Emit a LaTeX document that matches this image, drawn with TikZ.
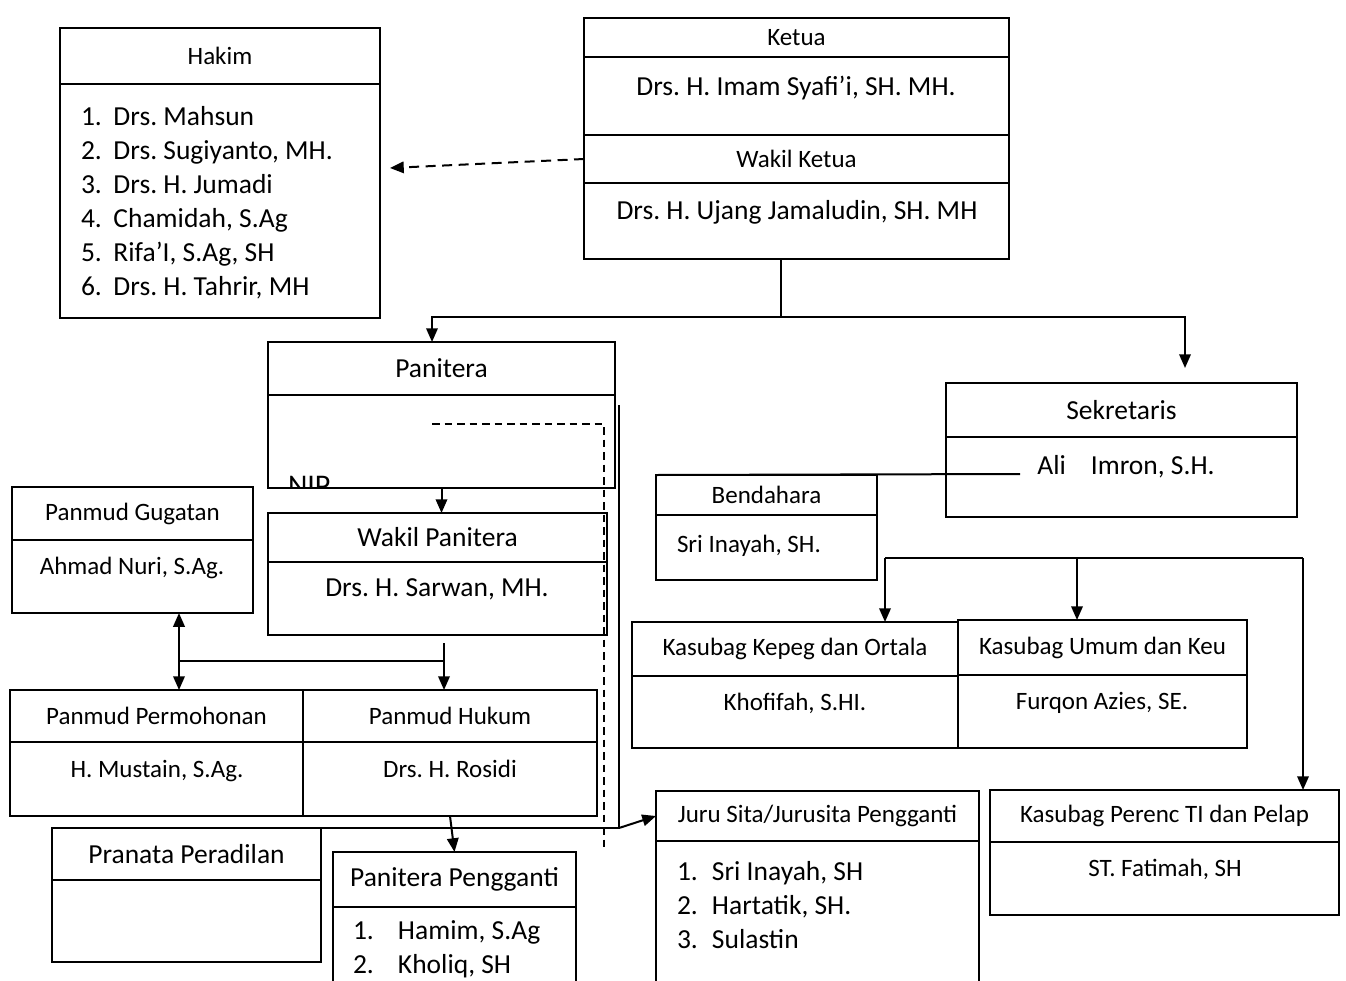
\documentclass[tikz,border=0pt]{standalone}
\usepackage{fontspec}
\setmainfont{Carlito}
\usetikzlibrary{arrows.meta,positioning}
\frenchspacing

\begin{document}
\begin{tikzpicture}[x=0.4pt, y=-0.4pt, line width=0.8pt, >={Triangle[length=5.5pt,width=4.6pt]},
  box/.style 2 args={draw, anchor=north west, inner sep=0pt, outer sep=0pt, minimum width=#1*0.4pt, minimum height=#2*0.4pt},
  hd/.style={font=\fontsize{10}{12}\selectfont},
  hdl/.style={font=\fontsize{11}{13}\selectfont},
  nm/.style={anchor=base, inner sep=0pt, font=\fontsize{10}{12}\selectfont},
  nml/.style={anchor=base, inner sep=0pt, font=\fontsize{11}{13.6}\selectfont},
  lst/.style={anchor=north west, inner sep=0pt, align=left, font=\fontsize{11}{13.6}\selectfont}]
	\useasboundingbox (0,0) rectangle (1346,980);
	\clip (0,0) rectangle (1346,980);

	\node[box={425}{39}, hd] (ketuaH) at (584,18) {Ketua};
	\node[box={425}{78}, below=0pt of ketuaH] (ketuaB) {};
	\node[box={425}{48}, hd, below=0pt of ketuaB] (wkH) {Wakil Ketua};
	\node[box={425}{76}, below=0pt of wkH] (wkB) {};
	\node[box={320}{56}, hd] (hakimH) at (60,28) {Hakim};
	\node[box={320}{234}, below=0pt of hakimH] (hakimB) {};
	\node[box={347}{53}, hdl] (panH) at (268,342) {Panitera};
	\node[box={347}{93}, below=0pt of panH] (panB) {};
	\node[box={339}{49}, hdl] (wpH) at (268,513) {Wakil Panitera};
	\node[box={339}{73}, below=0pt of wpH] (wpB) {};
	\node[box={241}{53}, hd] (ggH) at (12,487) {Panmud Gugatan};
	\node[box={241}{73}, below=0pt of ggH] (ggB) {};
	\node[box={293}{52}, hd] (pmH) at (10,690) {Panmud Permohonan};
	\node[box={293}{74}, below=0pt of pmH] (pmB) {};
	\node[box={294}{52}, hd] (hkH) at (303,690) {Panmud Hukum};
	\node[box={294}{74}, below=0pt of hkH] (hkB) {};
	\node[box={269}{52}, hdl] (prH) at (52,828) {Pranata Peradilan};
	\node[box={269}{82}, below=0pt of prH] (prB) {};
	\node[box={243}{55}, hdl] (pgH) at (333,852) {Panitera Pengganti};
	\node[box={243}{140}, below=0pt of pgH] (pgB) {};
	\node[box={323}{50}, hd] (jsH) at (656,791) {Juru Sita/Jurusita Pengganti};
	\node[box={323}{200}, below=0pt of jsH] (jsB) {};
	\node[box={351}{54}, hdl] (skH) at (946,383) {Sekretaris};
	\node[box={351}{80}, below=0pt of skH] (skB) {};
	\node[box={221}{40}, hd] (bdH) at (656,475) {Bendahara};
	\node[box={221}{65}, below=0pt of bdH] (bdB) {};
	\node[box={326}{54}, hd] (kpH) at (632,622) {Kasubag Kepeg dan Ortala};
	\node[box={326}{72}, below=0pt of kpH] (kpB) {};
	\node[box={289}{55}, hd] (umH) at (958,620) {Kasubag Umum dan Keu};
	\node[box={289}{73}, below=0pt of umH] (umB) {};
	\node[box={349}{52}, hd] (pcH) at (990,790) {Kasubag Perenc TI dan Pelap};
	\node[box={349}{73}, below=0pt of pcH] (pcB) {};

	\node[nml] (ketuaN) at (796,95) {Drs. H. Imam Syafi’i, SH. MH.};
	\node[nml] (wkN) at (797,219) {Drs. H. Ujang Jamaludin, SH. MH};
	\node[lst] (hakimN) at (80,105) {\makebox[13pt][l]{1.}Drs. Mahsun\\\makebox[13pt][l]{2.}Drs. Sugiyanto, MH.\\\makebox[13pt][l]{3.}Drs. H. Jumadi\\\makebox[13pt][l]{4.}Chamidah, S.Ag\\\makebox[13pt][l]{5.}Rifa’I, S.Ag, SH\\\makebox[13pt][l]{6.}Drs. H. Tahrir, MH};
	\node[nml] (wpN) at (437,596) {Drs. H. Sarwan, MH.};
	\node[nm] (ggN) at (132,574) {Ahmad Nuri, S.Ag.};
	\node[nm] (pmN) at (157,777) {H. Mustain, S.Ag.};
	\node[nm] (hkN) at (450,777) {Drs. H. Rosidi};
	\node[lst] (pgN) at (352,920) {\makebox[18pt][l]{1.}Hamim, S.Ag\\\makebox[18pt][l]{2.}Kholiq, SH};
	\node[lst] (jsN) at (676,860) {\makebox[14pt][l]{1.}Sri Inayah, SH\\\makebox[14pt][l]{2.}Hartatik, SH.\\\makebox[14pt][l]{3.}Sulastin};
	\node[nml] (skN) at (1126,474) {Ali\hspace{10pt}Imron, S.H.};
	\node[nm, anchor=base west] (bdN) at (676,552) {Sri Inayah, SH.};
	\node[nm] (kpN) at (795,710) {Khofifah, S.HI.};
	\node[nm] (umN) at (1102,709) {Furqon Azies, SE.};
	\node[nm] (pcN) at (1165,876) {ST. Fatimah, SH};
	\begin{scope}
		\clip (panB.north west) rectangle (panB.south east);
		\node[nml, anchor=base west, font=\fontsize{12}{14}\selectfont] (nip) at (287,495) {NIP};
	\end{scope}

	\coordinate (hk) at (390,168);
	\draw[->, dash pattern=on 4pt off 2.6pt] (wkH.west) -- (hk);

	\coordinate (j1) at (781,317);
	\coordinate (j2) at (432,317);
	\coordinate (j3) at (1185,317);
	\draw (wkB.south -| j1) -- (j1);
	\draw[->] (j1) -- (j2) -- (panH.north -| j2);
	\draw[->, shorten >=6pt] (j1) -- (j3) -- (j3 |- skH.north);
	\draw[->] (panB.south) -- (panB.south |- wpH.north);

	\coordinate (d1) at (432,424);
	\coordinate (d2) at (604,852);
	\draw[line width=0.6pt, dash pattern=on 3pt off 2pt] (d1) -| (d2);

	\coordinate (s1) at (619,405);
	\coordinate (s2) at (619,828);
	\draw[line width=0.6pt] (s1) -- (s2) -- (prH.north east);
	\draw[->] (s2) -- (jsH.west);

	\coordinate (w1) at (444,643);
	\coordinate (h1) at (444,661);
	\coordinate (h2) at (179,661);
	\draw (w1) -- (h1) -- (h2);
	\draw[->] (h1) -- (h1 |- hkH.north);
	\draw[->] (h2) -- (h2 |- ggB.south);
	\draw[->] (h2) -- (h2 |- pmH.north);
	\draw[->] (hkB.south) -- (pgH.north);

	\coordinate (sk1) at (1020,474);
	\draw (sk1) -- (bdH.north west);

	\coordinate (k1) at (885,558);
	\coordinate (k2) at (1077,558);
	\coordinate (k3) at (1303,558);
	\draw (k1) -- (k3);
	\draw[->] (k1) -- (k1 |- kpH.north);
	\draw[->] (k2) -- (k2 |- umH.north);
	\draw[->] (k3) -- (k3 |- pcH.north);
\end{tikzpicture}
\end{document}
